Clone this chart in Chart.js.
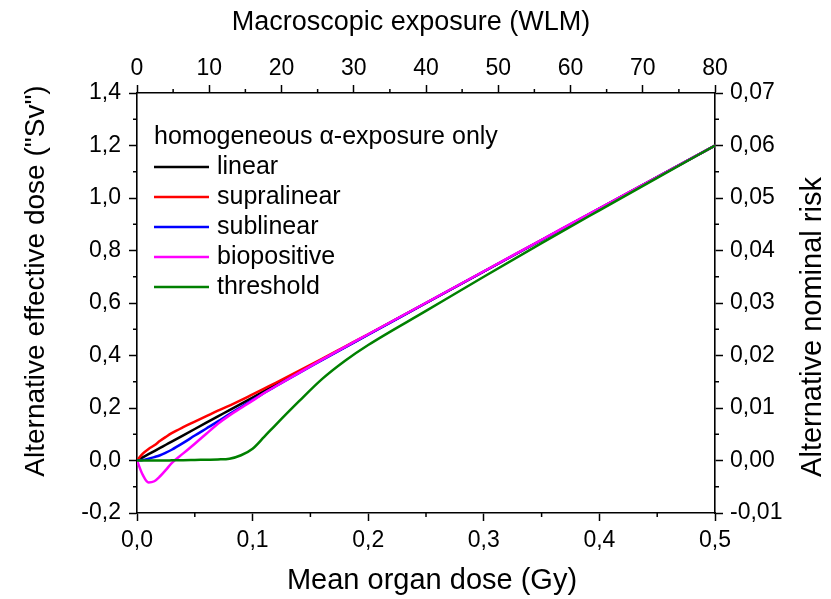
<!DOCTYPE html>
<html>
<head>
<meta charset="utf-8">
<script src="https://cdn.jsdelivr.net/npm/chart.js@4.4.1/dist/chart.umd.min.js"></script>
<style>
  html, body { margin: 0; padding: 0; background: #fff; }
</style>
</head>
<body>
<canvas id="dose-chart" width="831" height="599"></canvas>
<script>
// mean organ dose (Gy), shared by every curve
const doseGy = [0, 0.005, 0.01, 0.015, 0.02, 0.025, 0.03, 0.04, 0.05, 0.06, 0.07, 0.08, 0.09,
                0.1, 0.11, 0.12, 0.14, 0.16, 0.18, 0.2, 0.25, 0.3, 0.35, 0.4, 0.45, 0.5];

// alternative effective dose ("Sv") for each model
const linear      = [0, 0.012, 0.024, 0.036, 0.048, 0.06, 0.072, 0.096, 0.12, 0.144, 0.168, 0.192, 0.216,
                     0.24, 0.264, 0.288, 0.336, 0.384, 0.432, 0.48, 0.6, 0.72, 0.84, 0.96, 1.08, 1.2];
const supralinear = [0, 0.026, 0.044, 0.058, 0.075, 0.09, 0.104, 0.127, 0.148, 0.169, 0.19, 0.209, 0.23,
                     0.252, 0.274, 0.296, 0.341, 0.387, 0.434, 0.481, 0.6, 0.72, 0.84, 0.96, 1.08, 1.2];
const sublinear   = [0, 0.002, 0.007, 0.013, 0.02, 0.03, 0.041, 0.067, 0.095, 0.122, 0.149, 0.177, 0.204,
                     0.231, 0.257, 0.283, 0.333, 0.382, 0.431, 0.479, 0.6, 0.72, 0.84, 0.96, 1.08, 1.2];
const biopositive = [0, -0.055, -0.084, -0.079, -0.06, -0.036, -0.01, 0.027, 0.064, 0.102, 0.14, 0.172, 0.2,
                     0.228, 0.257, 0.283, 0.334, 0.384, 0.433, 0.481, 0.601, 0.721, 0.841, 0.961, 1.08, 1.2];
const threshold   = [0, 0, 0, 0, 0, 0, 0.0005, 0.001, 0.002, 0.003, 0.004, 0.007, 0.02,
                     0.045, 0.09, 0.136, 0.225, 0.31, 0.38, 0.44, 0.57, 0.7, 0.828, 0.953, 1.077, 1.2];

const seriesNames  = ['linear', 'supralinear', 'sublinear', 'biopositive', 'threshold'];
const seriesColors = ['#000000', '#ff0000', '#0000ff', '#ff00ff', '#008000'];
const seriesValues = [linear, supralinear, sublinear, biopositive, threshold];

const legendTitle = 'homogeneous \u03b1-exposure only';
const xTitle  = 'Mean organ dose (Gy)';
const x2Title = 'Macroscopic exposure (WLM)';
const yTitle  = 'Alternative effective dose ("Sv")';
const y2Title = 'Alternative nominal risk';

const FONT = "'Liberation Sans', Arial, sans-serif";
const TICK_SIZE = 23, LEGEND_SIZE = 25;

Chart.defaults.font.family = FONT;
Chart.defaults.color = '#000';

commaFmt = (digits) => (v) => {
    if (Math.abs(v) < 1e-9) v = 0;
    return v.toFixed(digits).replace('.', ',');
};

axisOpts = (position, min, max, step, fmt, size, tickPad) => ({
    type: 'linear',
    position: position,
    min: min,
    max: max,
    afterFit: (s) => { if (s.isHorizontal()) s.height = size; else s.width = size; },
    ticks: {
        stepSize: step,
        callback: fmt,
        padding: tickPad,
        maxRotation: 0,
        autoSkip: false,
        font: { size: TICK_SIZE }
    },
    grid: {
        drawOnChartArea: false,
        tickLength: 8,
        tickWidth: 1.5,
        tickColor: '#000'
    },
    border: { color: '#000', width: 1.6 }
});

// short outward ticks halfway between the labelled ones
const minorTickPlugin = {
    id: 'minorTicks',
    afterDraw(chart) {
        const ctx = chart.ctx;
        ctx.save();
        ctx.strokeStyle = '#000';
        ctx.lineWidth = 1.5;
        Object.values(chart.scales).forEach((s) => {
            const t = s.ticks;
            for (let i = 0; i < t.length - 1; i++) {
                const p = s.getPixelForValue((t[i].value + t[i + 1].value) / 2);
                ctx.beginPath();
                if (s.position === 'bottom') { ctx.moveTo(p, s.top); ctx.lineTo(p, s.top + 4); }
                if (s.position === 'top')    { ctx.moveTo(p, s.bottom); ctx.lineTo(p, s.bottom - 4); }
                if (s.position === 'left')   { ctx.moveTo(s.right, p); ctx.lineTo(s.right - 4, p); }
                if (s.position === 'right')  { ctx.moveTo(s.left, p); ctx.lineTo(s.left + 4, p); }
                ctx.stroke();
            }
        });
        ctx.restore();
    }
};

drawLabel = (ctx, text, size, x, y, angle) => {
    ctx.save();
    ctx.font = size + 'px ' + FONT;
    ctx.textAlign = 'center';
    ctx.textBaseline = 'middle';
    ctx.translate(x, y);
    ctx.rotate(angle);
    ctx.fillText(text, 0, 0);
    ctx.restore();
};

// legend inside the plot + the four axis titles
const textPlugin = {
    id: 'extraText',
    afterDraw(chart) {
        const ctx = chart.ctx, area = chart.chartArea;
        ctx.save();
        ctx.fillStyle = '#000';
        ctx.textBaseline = 'middle';
        ctx.textAlign = 'left';
        ctx.font = LEGEND_SIZE + 'px ' + FONT;
        const lx = area.left + 17, ly = area.top + 44;
        ctx.fillText(legendTitle, lx, ly);
        chart.data.datasets.forEach((ds, i) => {
            const y = ly + 30 * (i + 1);
            ctx.strokeStyle = ds.borderColor;
            ctx.lineWidth = 2.5;
            ctx.beginPath();
            ctx.moveTo(lx, y);
            ctx.lineTo(lx + 55, y);
            ctx.stroke();
            ctx.fillText(ds.label, lx + 63, y);
        });
        ctx.restore();

        drawLabel(ctx, x2Title, 27, 411, 23, 0);
        drawLabel(ctx, xTitle, 29, 432, 581, 0);
        drawLabel(ctx, yTitle, 28, 36, 281, -Math.PI / 2);
        drawLabel(ctx, y2Title, 29, 813, 327, -Math.PI / 2);
    }
};

new Chart(document.getElementById('dose-chart'), {
    type: 'line',
    data: {
        datasets: seriesNames.map((name, i) => ({
            label: name,
            data: doseGy.map((d, k) => ({ x: d, y: seriesValues[i][k] })),
            borderColor: seriesColors[i],
            backgroundColor: seriesColors[i],
            borderWidth: 2.5,
            pointRadius: 0,
            fill: false,
            cubicInterpolationMode: 'monotone',
            order: seriesNames.length - i,
            xAxisID: 'x',
            yAxisID: 'y'
        }))
    },
    options: {
        responsive: false,
        animation: false,
        layout: { padding: 0 },
        plugins: { legend: { display: false }, tooltip: { enabled: false } },
        scales: {
            x:  axisOpts('bottom', 0, 0.5, 0.1, commaFmt(1), 86, 6),
            x2: axisOpts('top', 0, 80, 10, (v) => String(v), 93, 3),
            y:  axisOpts('left', -0.2, 1.4, 0.2, commaFmt(1), 137, 8),
            y2: axisOpts('right', -0.01, 0.07, 0.01, commaFmt(2), 116, 7)
        }
    },
    plugins: [minorTickPlugin, textPlugin]
});
</script>
</body>
</html>
